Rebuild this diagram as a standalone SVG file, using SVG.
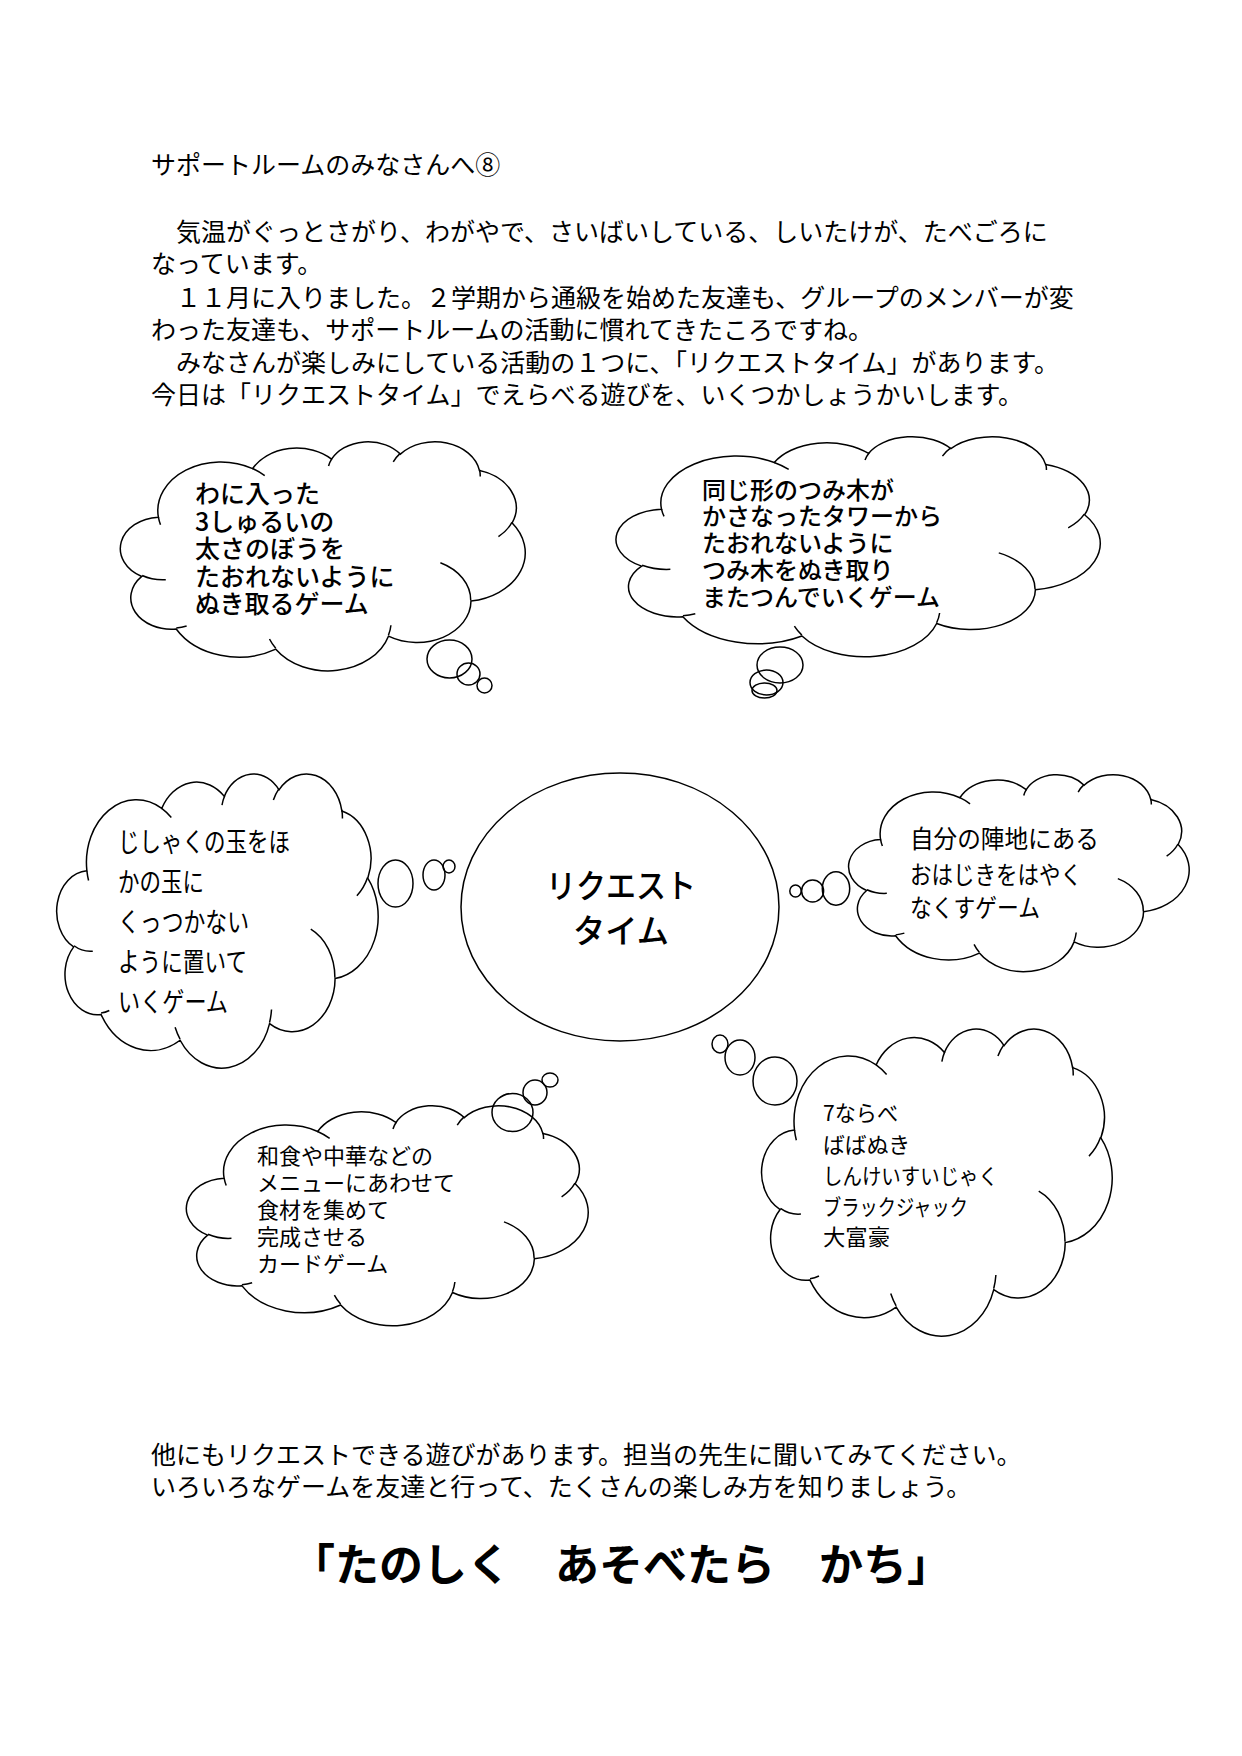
<svg xmlns="http://www.w3.org/2000/svg" xmlns:xlink="http://www.w3.org/1999/xlink" width="1242" height="1756" viewBox="0 0 1242 1756">
<style>
text{font-family:"Noto Sans CJK JP","Noto Sans CJK SC",sans-serif;fill:#000}
.body{font-size:25px}
.c1{font-size:25px;font-weight:500}
.c2{font-size:24px;font-weight:500}
.c3{font-size:27px}
.c4{font-size:25px}
.c5{font-size:22px}
.c6{font-size:22px}
.ctr{font-size:33px;font-weight:500;text-anchor:middle}
.title{font-size:44px;font-weight:bold;text-anchor:middle}
.bub{fill:none;stroke:#000;stroke-width:1.5}
</style>
<defs>
<path id="cloudOut" fill="#fff" stroke="#000" stroke-width="1.5" vector-effect="non-scaling-stroke" d="M39 143.7A67.53 91.9 0 0 1 140.06 52.03A53.33 72.67 0 0 1 224.6 34.33A43.65 59.45 0 0 1 298.37 24.8A48.57 65.95 0 0 1 383.22 55.75A53.33 72.73 0 0 1 418.22 154.59A67.75 92.2 0 0 1 374.09 302.04A57.85 78.67 0 0 1 285.62 368.15A67.52 92.15 0 0 1 164.87 392.68A77.2 105.43 0 0 1 58.1 354.72A43.6 59.18 0 0 1 21.19 255.49A43.45 59.45 0 0 1 39 143.7Z"/>
<path id="cloudIn" fill="none" stroke="#000" stroke-width="1.5" vector-effect="non-scaling-stroke" d="M46.93 261.77A43.45 59.45 0 0 1 21.6 253.8M69.28 348.99A43.6 59.18 0 0 1 58.2 352.8M164.78 390.9A67.52 92.15 0 0 1 158.1 373.48M288.27 347.51A67.52 92.15 0 0 1 285.6 366.6M341.29 229.54A57.85 78.67 0 0 1 373.8 300.9M417.98 153.54A53.33 72.73 0 0 1 403.5 180.3M383.24 54.26A48.57 65.95 0 0 1 384 66.9M290.78 39.52A48.57 65.95 0 0 1 298.2 23.39M221.41 47.2A43.65 59.45 0 0 1 225 33.3M140 51.92A67.53 91.9 0 0 1 153 65.44M41.27 157.89A67.53 91.9 0 0 1 39 143.7"/>
</defs>
<rect width="1242" height="1756" fill="#fff"/>

<g id="intro" class="body">
<text x="151" y="174" class="body">サポートルームのみなさんへ⑧</text>
<text x="151" y="241" class="body">　気温がぐっとさがり、わがやで、さいばいしている、しいたけが、たべごろに</text>
<text x="151" y="273" class="body">なっています。</text>
<text x="151" y="307" class="body">　１１月に入りました。２学期から通級を始めた友達も、グループのメンバーが変</text>
<text x="151" y="339" class="body">わった友達も、サポートルームの活動に慣れてきたころですね。</text>
<text x="151" y="372" class="body">　みなさんが楽しみにしている活動の１つに、「リクエストタイム」があります。</text>
<text x="151" y="404" class="body">今日は「リクエストタイム」でえらべる遊びを、いくつかしょうかいします。</text>
</g>

<g id="center">
<ellipse cx="620" cy="907" rx="159" ry="134" fill="#fff" stroke="#000" stroke-width="1.5"/>
<text x="621" y="898" class="ctr" textLength="150" lengthAdjust="spacingAndGlyphs">リクエスト</text>
<text x="621" y="943" class="ctr" textLength="96" lengthAdjust="spacingAndGlyphs">タイム</text>
</g>

<g id="cloud1">
<g transform="translate(122,441) scale(0.9329,0.5301)"><use xlink:href="#cloudOut"/><use xlink:href="#cloudIn"/></g>
<ellipse class="bub" cx="449.5" cy="659" rx="22.5" ry="19"/>
<ellipse class="bub" cx="468.5" cy="674" rx="11.5" ry="11"/>
<ellipse class="bub" cx="484.5" cy="685.5" rx="7.5" ry="7.5"/>
<text x="195" y="503" class="c1">わに入った</text>
<text x="195" y="530.5" class="c1">3しゅるいの</text>
<text x="195" y="558" class="c1">太さのぼうを</text>
<text x="195" y="585.5" class="c1">たおれないように</text>
<text x="195" y="613" class="c1">ぬき取るゲーム</text>
</g>

<g id="cloud2">
<g transform="translate(618,436) scale(1.1157,0.5093)"><use xlink:href="#cloudOut"/><use xlink:href="#cloudIn"/></g>
<ellipse class="bub" cx="780" cy="665" rx="23" ry="18"/>
<ellipse class="bub" cx="766.5" cy="682.5" rx="16.5" ry="12.5"/>
<ellipse class="bub" cx="764.5" cy="690.5" rx="12.5" ry="7.5"/>
<text x="702" y="498.5" class="c2">同じ形のつみ木が</text>
<text x="702" y="525" class="c2">かさなったタワーから</text>
<text x="702" y="552" class="c2">たおれないように</text>
<text x="702" y="579" class="c2">つみ木をぬき取り</text>
<text x="702" y="605.5" class="c2">またつんでいくゲーム</text>
</g>

<g id="cloud3">
<g transform="translate(58,773) scale(0.7407,0.6806)"><use xlink:href="#cloudOut"/><use xlink:href="#cloudIn"/></g>
<ellipse class="bub" cx="395.5" cy="883.5" rx="17.5" ry="23.5"/>
<ellipse class="bub" cx="434" cy="875" rx="11" ry="15"/>
<ellipse class="bub" cx="449" cy="866.5" rx="6" ry="6.5"/>
<text x="118" y="852" class="c3" textLength="172" lengthAdjust="spacingAndGlyphs">じしゃくの玉をほ</text>
<text x="118" y="892" class="c3" textLength="86" lengthAdjust="spacingAndGlyphs">かの玉に</text>
<text x="118" y="932" class="c3" textLength="131" lengthAdjust="spacingAndGlyphs">くっつかない</text>
<text x="118" y="972" class="c3" textLength="129" lengthAdjust="spacingAndGlyphs">ように置いて</text>
<text x="118" y="1012" class="c3" textLength="110" lengthAdjust="spacingAndGlyphs">いくゲーム</text>
</g>

<g id="cloud4">
<g transform="translate(850,774) scale(0.7847,0.4560)"><use xlink:href="#cloudOut"/><use xlink:href="#cloudIn"/></g>
<ellipse class="bub" cx="836" cy="888.5" rx="13.7" ry="16.7"/>
<ellipse class="bub" cx="812.6" cy="891" rx="11" ry="11"/>
<ellipse class="bub" cx="795.5" cy="891" rx="5.7" ry="6"/>
<text x="910" y="848" class="c4" textLength="189" lengthAdjust="spacingAndGlyphs">自分の陣地にある</text>
<text x="910" y="884" class="c4" textLength="172" lengthAdjust="spacingAndGlyphs">おはじきをはやく</text>
<text x="910" y="917" class="c4" textLength="130" lengthAdjust="spacingAndGlyphs">なくすゲーム</text>
</g>

<g id="cloud5">
<g transform="translate(188,1105) scale(0.9259,0.5093)"><use xlink:href="#cloudOut"/><use xlink:href="#cloudIn"/></g>
<ellipse class="bub" cx="512.5" cy="1112.5" rx="20.5" ry="19"/>
<ellipse class="bub" cx="535" cy="1092.5" rx="12" ry="12.5"/>
<ellipse class="bub" cx="550" cy="1080" rx="8" ry="7"/>
<text x="257" y="1164" class="c5">和食や中華などの</text>
<text x="257" y="1191" class="c5">メニューにあわせて</text>
<text x="257" y="1218" class="c5">食材を集めて</text>
<text x="257" y="1245" class="c5">完成させる</text>
<text x="257" y="1272" class="c5">カードゲーム</text>
</g>

<g id="cloud6">
<g transform="translate(763,1028) scale(0.8079,0.7106)"><use xlink:href="#cloudOut"/><use xlink:href="#cloudIn"/></g>
<ellipse class="bub" cx="720" cy="1044" rx="8" ry="9"/>
<ellipse class="bub" cx="740" cy="1057.5" rx="15" ry="17.5"/>
<ellipse class="bub" cx="775" cy="1081" rx="22" ry="24"/>
<text x="823" y="1121" class="c6" textLength="75" lengthAdjust="spacingAndGlyphs">7ならべ</text>
<text x="823" y="1153" class="c6" textLength="87" lengthAdjust="spacingAndGlyphs">ばばぬき</text>
<text x="823" y="1184" class="c6" textLength="175" lengthAdjust="spacingAndGlyphs">しんけいすいじゃく</text>
<text x="823" y="1215" class="c6" textLength="145" lengthAdjust="spacingAndGlyphs">ブラックジャック</text>
<text x="823" y="1245" class="c6" textLength="67" lengthAdjust="spacingAndGlyphs">大富豪</text>
</g>

<g id="outro">
<text x="151" y="1464" class="body">他にもリクエストできる遊びがあります。担当の先生に聞いてみてください。</text>
<text x="151" y="1496" class="body">いろいろなゲームを友達と行って、たくさんの楽しみ方を知りましょう。</text>
<text x="621" y="1581" class="title">「たのしく　あそべたら　かち」</text>
</g>
<g id="connectors"/>
</svg>
